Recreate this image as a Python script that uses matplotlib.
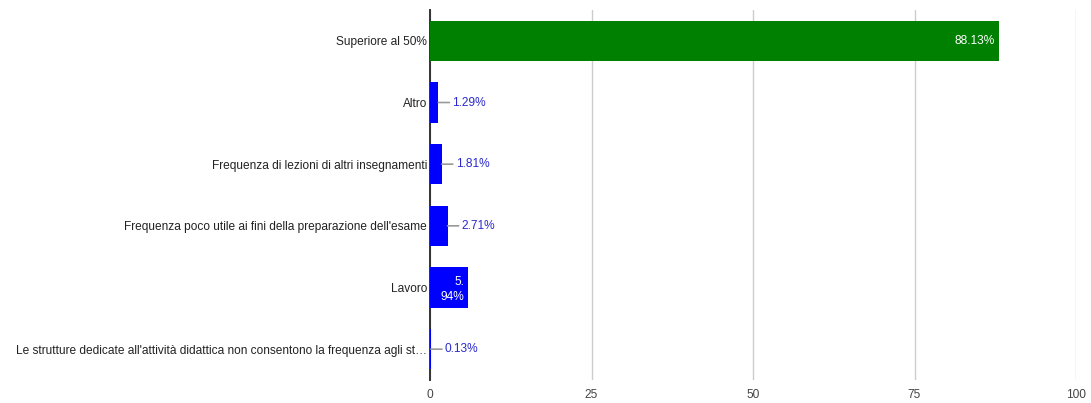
import matplotlib
matplotlib.use("Agg")
import matplotlib.pyplot as plt

categories = [
    "Superiore al 50%",
    "Altro",
    "Frequenza di lezioni di altri insegnamenti",
    "Frequenza poco utile ai fini della preparazione dell'esame",
    "Lavoro",
    "Le strutture dedicate all'attività didattica non consentono la frequenza agli st…",
]
values = [88.13, 1.29, 1.81, 2.71, 5.94, 0.13]
value_labels = ["88.13%", "1.29%", "1.81%", "2.71%", "5.\n94%", "0.13%"]
colors = ["#008000", "#0000ff", "#0000ff", "#0000ff", "#0000ff", "#0000ff"]
inside = [True, False, False, False, True, False]
xticks = [0, 25, 50, 75, 100]

plt.rcParams["font.family"] = ["Liberation Sans", "DejaVu Sans"]
FS = 8.6

fig = plt.figure(figsize=(10.91, 4.03), dpi=100)
ax = fig.add_axes([430 / 1091, 1 - 380 / 403, (1076 - 430) / 1091, 370 / 403])

ypos = list(range(len(categories)))
ax.barh(ypos, values, height=0.65, color=colors, zorder=3)

ax.set_xlim(0, 100)
ax.set_ylim(len(categories) - 0.5, -0.5)
ax.set_xticks(xticks)
ax.set_xticklabels([str(t) for t in xticks], color="#444444", fontsize=FS)
ax.set_yticks(ypos)
ax.set_yticklabels(categories, color="#222222", fontsize=FS)
ax.tick_params(axis="both", length=0)
ax.tick_params(axis="y", pad=2)
ax.tick_params(axis="x", pad=6.5)

ax.grid(axis="x", color="#cccccc", linewidth=1, zorder=0)
for s in ["top", "right", "bottom"]:
    ax.spines[s].set_visible(False)
ax.spines["left"].set_color("#333333")
ax.spines["left"].set_linewidth(1.4)
ax.spines["left"].set_zorder(2)

for y, v, lab, ins in zip(ypos, values, value_labels, inside):
    if ins:
        ax.annotate(lab, xy=(v, y), xytext=(-3, -1.5 if "\n" in lab else 0),
                    textcoords="offset points",
                    ha="right", va="center", color="white", fontsize=FS,
                    linespacing=1.35, zorder=5)
    else:
        ax.annotate(lab, xy=(v, y), xytext=(10, 0), textcoords="offset points",
                    ha="left", va="center", color="#2a2acc", fontsize=FS,
                    arrowprops=dict(arrowstyle="-", color="#999999", lw=1.2,
                                    shrinkA=0, shrinkB=0, relpos=(0, 0.5)),
                    zorder=5)

fig.savefig("out.png", dpi=100)
